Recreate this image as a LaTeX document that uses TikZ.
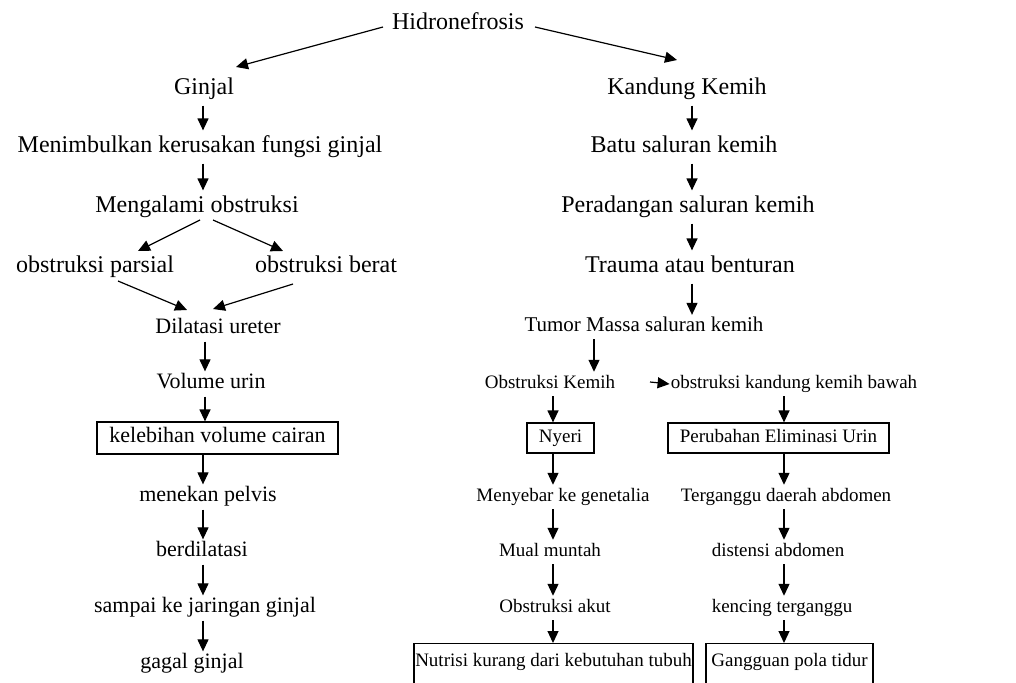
\documentclass[tikz,border=0pt]{standalone}
\usepackage{fontspec}
\setmainfont{Liberation Serif}
\usetikzlibrary{arrows.meta,calc}
\begin{document}
\begin{tikzpicture}[x=1pt,y=-1pt,
 arr/.style={-{Triangle[length=12pt,width=11pt]}, line width=1.2pt},
 tA/.style={font=\fontsize{24}{28}\selectfont, inner xsep=1pt, inner ysep=5pt, text height=16.8pt, text depth=6pt, yshift=-2pt},
 tT/.style={font=\fontsize{21}{25}\selectfont, inner xsep=1pt, inner ysep=2pt, text height=14.7pt, text depth=5.2pt, yshift=-2pt},
 tB/.style={font=\fontsize{22}{26}\selectfont, inner xsep=1pt, inner ysep=2pt, text height=15.4pt, text depth=5.5pt, yshift=-2pt},
 tC/.style={font=\fontsize{19}{23}\selectfont, inner xsep=1pt, inner ysep=3pt, text height=13.3pt, text depth=4.75pt, yshift=-2pt},
 boxB/.style={tB, draw, line width=1.2pt, inner ysep=0pt, minimum height=32pt, yshift=2pt},
 boxC/.style={tC, draw, line width=1.2pt, inner ysep=0pt, minimum height=30pt, yshift=2pt},
 boxD/.style={tC, draw, line width=1.2pt, anchor=north, inner ysep=10pt, text height=13pt, text depth=30pt, yshift=2pt}
]
\useasboundingbox (0,0) rectangle (1016,682);
\clip (0,0) rectangle (1016,682);
% column x positions
\coordinate (xL1) at (203,0);
\coordinate (xL2) at (205,0);
\coordinate (xR) at (692,0);
\coordinate (xT) at (594,0);
\coordinate (xM) at (553,0);
\coordinate (xP) at (784,0);
% top
\node[tA] (hid) at (458,22) {Hidronefrosis};
% left column
\node[tA] (ginjal) at (204,87) {Ginjal};
\node[tA] (men) at (200,145) {Menimbulkan kerusakan fungsi ginjal};
\node[tA] (meng) at (197,205) {Mengalami obstruksi};
\node[tA] (parsial) at (95,265) {obstruksi parsial};
\node[tA] (berat) at (326,265) {obstruksi berat};
\node[tB] (dil) at (218,327) {Dilatasi ureter};
\node[tB] (vol) at (211,382) {Volume urin};
\node[boxB, minimum width=241pt] (keleb) at (217.5,438) {kelebihan volume cairan};
\node[tB] (menekan) at (208,495) {menekan pelvis};
\node[tB] (berd) at (202,550) {berdilatasi};
\node[tB] (sampai) at (205,606) {sampai ke jaringan ginjal};
\node[tB] (gagal) at (192,662) {gagal ginjal};
% right upper column
\node[tA] (kand) at (687,87) {Kandung Kemih};
\node[tA] (batu) at (684,145) {Batu saluran kemih};
\node[tA] (perad) at (688,205) {Peradangan saluran kemih};
\node[tA] (trauma) at (690,265) {Trauma atau benturan};
\node[tT] (tumor) at (644,325) {Tumor Massa saluran kemih};
% middle lower column
\node[tC] (ok) at (550,382) {Obstruksi Kemih};
\node[boxC, minimum width=67pt] (nyeri) at (560.5,438) {Nyeri};
\node[tC] (meny) at (563,495) {Menyebar ke genetalia};
\node[tC] (mual) at (550,550) {Mual muntah};
\node[tC] (akut) at (555,606) {Obstruksi akut};
\node[boxD, minimum width=279pt] (nutri) at (553.5,643) {Nutrisi kurang dari kebutuhan tubuh};
% right lower column
\node[tC] (okb) at (794,382) {obstruksi kandung kemih bawah};
\node[boxC, minimum width=221pt] (perub) at (778.5,438) {Perubahan Eliminasi Urin};
\node[tC] (terg) at (786,495) {Terganggu daerah abdomen};
\node[tC] (dist) at (778,550) {distensi abdomen};
\node[tC] (kenc) at (782,606) {kencing terganggu};
\node[boxD, minimum width=167pt] (gang) at (789.5,643) {Gangguan pola tidur};
\coordinate (okbs) at (650,382);
% diagonal arrows
\draw[arr] ($(hid.center)+(-75,3)$) -- ($(ginjal.center)+(32,-22)$);
\draw[arr] ($(hid.center)+(77,3)$) -- ($(kand.center)+(-10,-29)$);
\draw[arr] ($(meng.center)+(3,13)$) -- ($(parsial.center)+(43,-16)$);
\draw[arr] ($(meng.center)+(16,13)$) -- ($(berat.center)+(-43,-16)$);
\draw[arr] ($(parsial.center)+(23,14)$) -- ($(dil.center)+(-31,-19)$);
\draw[arr] ($(berat.center)+(-33,17)$) -- ($(dil.center)+(-5,-20)$);
% vertical arrows
\draw[arr] (ginjal.south -| xL1) -- (men.north -| xL1);
\draw[arr] (men.south -| xL1) -- (meng.north -| xL1);
\draw[arr] (dil.south -| xL2) -- (vol.north -| xL2);
\draw[arr] (vol.south -| xL2) -- (keleb.north -| xL2);
\draw[arr] (keleb.south -| xL1) -- (menekan.north -| xL1);
\draw[arr] (menekan.south -| xL1) -- (berd.north -| xL1);
\draw[arr] (berd.south -| xL1) -- (sampai.north -| xL1);
\draw[arr] (sampai.south -| xL1) -- (gagal.north -| xL1);
\draw[arr] (kand.south -| xR) -- (batu.north -| xR);
\draw[arr] (batu.south -| xR) -- (perad.north -| xR);
\draw[arr] (perad.south -| xR) -- (trauma.north -| xR);
\draw[arr] (trauma.south -| xR) -- (tumor.north -| xR);
\draw[arr] (tumor.south -| xT) -- (ok.north -| xT);
\draw[arr] (ok.south -| xM) -- (nyeri.north -| xM);
\draw[arr] (nyeri.south -| xM) -- (meny.north -| xM);
\draw[arr] (meny.south -| xM) -- (mual.north -| xM);
\draw[arr] (mual.south -| xM) -- (akut.north -| xM);
\draw[arr] (akut.south -| xM) -- (nutri.north -| xM);
\draw[arr] (okb.south -| xP) -- (perub.north -| xP);
\draw[arr] (perub.south -| xP) -- (terg.north -| xP);
\draw[arr] (terg.south -| xP) -- (dist.north -| xP);
\draw[arr] (dist.south -| xP) -- (kenc.north -| xP);
\draw[arr] (kenc.south -| xP) -- (gang.north -| xP);
\draw[arr] (okbs) -- (okb.west);
\end{tikzpicture}
\end{document}
